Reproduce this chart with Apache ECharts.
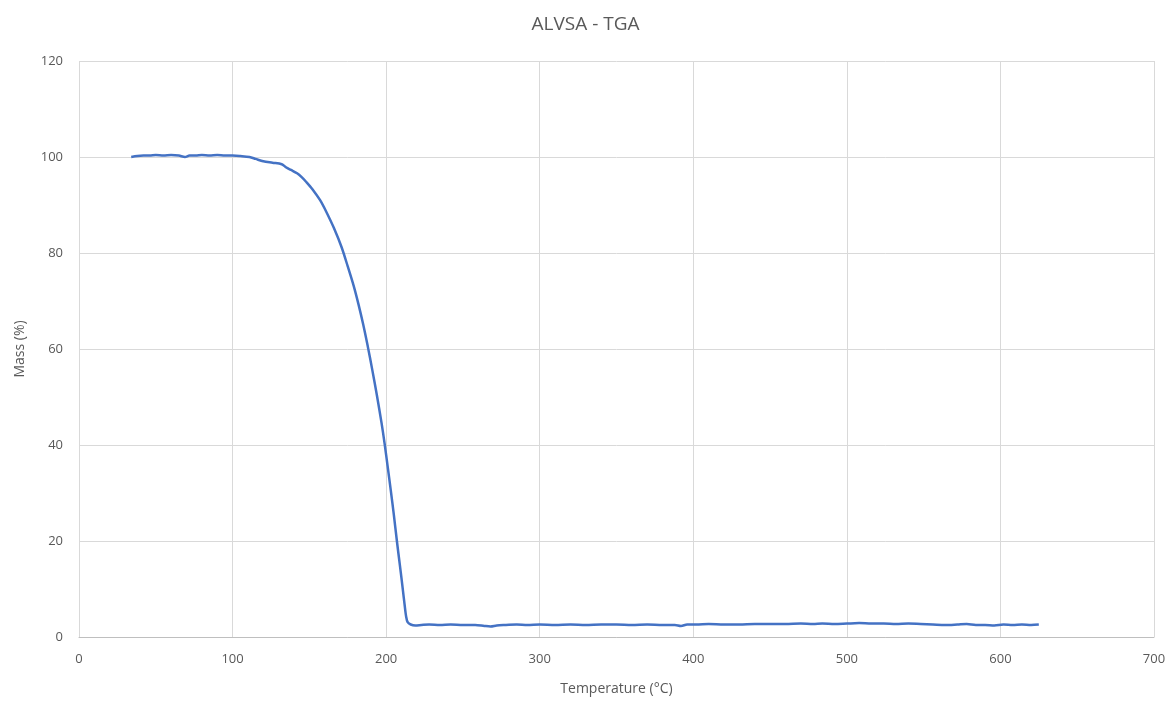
<!DOCTYPE html>
<html>
<head>
  <meta charset="utf-8">
  <title>ALVSA - TGA</title>
  <script src="https://cdn.jsdelivr.net/npm/echarts@6/dist/echarts.min.js"></script>
  <style>
    html, body { margin: 0; padding: 0; background: #fff; }
    #chart { width: 1171px; height: 702px; }
  </style>
</head>
<body>
  <div id="chart"></div>
  <script>
    // temperature (°C) readings and mass (%)
    const temps = [
      34, 38, 42, 46, 50, 55, 60, 65, 69, 72, 76, 80, 85, 90, 95, 100,
      105, 111, 115, 120, 126, 132, 135, 138, 142, 145, 148, 152, 157, 161, 166, 171,
      175, 179, 182, 185, 188, 191, 194, 197, 199, 201, 203, 205, 207, 209, 210, 211, 212,
      213, 214, 216, 219, 223, 228, 235, 242, 250, 258, 264, 268, 272, 278, 285, 292,
      300, 310, 320, 330, 340, 350, 360, 370, 380, 388, 392, 396, 402, 410, 420, 430,
      440, 450, 460, 470, 478, 484, 492, 500, 508, 516, 524, 532, 540, 548, 556, 564,
      572, 578, 584, 590, 596, 602, 608, 614, 620, 625
    ]
    const mass = [
      100.0, 100.2, 100.3, 100.3, 100.4, 100.3, 100.4, 100.3, 100.0, 100.3, 100.3, 100.4, 100.3, 100.4, 100.3, 100.3,
      100.2, 100.0, 99.6, 99.1, 98.8, 98.5, 97.8, 97.3, 96.6, 95.8, 94.8, 93.3, 91.0, 88.6, 85.2, 81.2,
      77.2, 73.0, 69.3, 65.2, 60.6, 55.6, 50.3, 44.6, 40.3, 35.5, 30.6, 25.5, 20.0, 14.8, 12.2, 9.5, 6.8,
      4.3, 3.1, 2.6, 2.4, 2.5, 2.6, 2.5, 2.6, 2.5, 2.5, 2.3, 2.2, 2.4, 2.5, 2.6, 2.5,
      2.6, 2.5, 2.6, 2.5, 2.6, 2.6, 2.5, 2.6, 2.5, 2.5, 2.3, 2.6, 2.6, 2.7, 2.6, 2.6,
      2.7, 2.7, 2.7, 2.8, 2.7, 2.8, 2.7, 2.8, 2.9, 2.8, 2.8, 2.7, 2.8, 2.7, 2.6, 2.5,
      2.6, 2.7, 2.5, 2.5, 2.4, 2.6, 2.5, 2.6, 2.5, 2.6
    ]
    const xTicks = [0, 700, 100]
    const yTicks = [0, 120, 20]

    const txt = '#595959'
    const font = "'Open Sans', sans-serif"

    let chart = echarts.init(document.getElementById('chart'))
    let option = {
      animation: false,
      title: {
        text: 'ALVSA - TGA',
        left: 'center',
        top: 10,
        textStyle: { color: txt, fontSize: 19, fontWeight: 'normal', fontFamily: font }
      },
      grid: { left: 79, right: 17, top: 61, bottom: 65 },
      xAxis: {
        type: 'value',
        min: xTicks[0], max: xTicks[1], interval: xTicks[2],
        name: 'Temperature (°C)',
        nameLocation: 'middle',
        nameGap: 45,
        nameTextStyle: { color: txt, fontSize: 14, fontFamily: font },
        axisLine: { show: true, lineStyle: { color: '#bfbfbf', width: 1 } },
        axisTick: { show: false },
        axisLabel: { color: txt, fontSize: 13, margin: 16, fontFamily: font },
        splitLine: { show: true, lineStyle: { color: '#d9d9d9', width: 1 } }
      },
      yAxis: {
        type: 'value',
        min: yTicks[0], max: yTicks[1], interval: yTicks[2],
        name: 'Mass (%)',
        nameLocation: 'middle',
        nameGap: 52,
        nameRotate: 90,
        nameTextStyle: { color: txt, fontSize: 14, fontFamily: font },
        axisLine: { show: false },
        axisTick: { show: false },
        axisLabel: { color: txt, fontSize: 13, margin: 16, fontFamily: font },
        splitLine: { show: true, lineStyle: { color: '#d9d9d9', width: 1 } }
      },
      series: [{
        type: 'line',
        data: temps.map((t, i) => [t, mass[i]]),
        showSymbol: false,
        smooth: 0.3,
        lineStyle: { color: '#4472C4', width: 2.5 },
        itemStyle: { color: '#4472C4' }
      }]
    }
    chart.setOption(option)
  </script>
</body>
</html>
